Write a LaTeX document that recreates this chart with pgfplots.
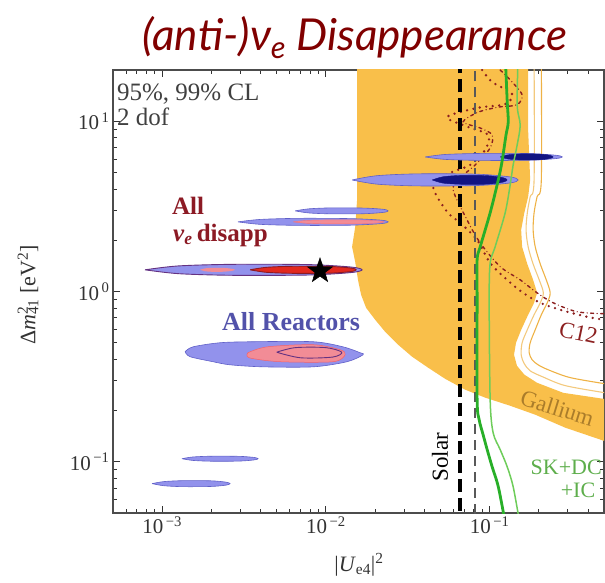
\documentclass[border=0pt]{standalone}
\usepackage{fontspec}
\setmainfont{Liberation Serif}
\newfontfamily\titlefont{Lato}
\usepackage{pgfplots}
\pgfplotsset{compat=1.18}

\definecolor{gal}{RGB}{249,191,74}
\definecolor{galline}{RGB}{238,178,70}
\definecolor{galtext}{RGB}{170,124,42}
\definecolor{lblue}{RGB}{146,146,236}
\definecolor{bedge}{RGB}{96,96,200}
\definecolor{dblue}{RGB}{18,20,130}
\definecolor{pinkc}{RGB}{242,140,150}
\definecolor{redc}{RGB}{226,40,30}
\definecolor{dred}{RGB}{140,26,36}
\definecolor{cdots}{RGB}{140,32,32}
\definecolor{gthick}{RGB}{40,175,40}
\definecolor{gthin}{RGB}{110,205,90}
\definecolor{titlered}{RGB}{128,0,0}
\definecolor{reac}{RGB}{82,82,170}
\definecolor{purp}{RGB}{100,50,130}

% filled five-pointed star for the best-fit point
\pgfdeclareplotmark{fivestar}{%
  \pgfpathmoveto{\pgfqpoint{0pt}{13pt}}%
  \pgfpathlineto{\pgfqpoint{-3.06pt}{4.21pt}}%
  \pgfpathlineto{\pgfqpoint{-12.36pt}{4.02pt}}%
  \pgfpathlineto{\pgfqpoint{-4.94pt}{-1.61pt}}%
  \pgfpathlineto{\pgfqpoint{-7.64pt}{-10.52pt}}%
  \pgfpathlineto{\pgfqpoint{0pt}{-5.2pt}}%
  \pgfpathlineto{\pgfqpoint{7.64pt}{-10.52pt}}%
  \pgfpathlineto{\pgfqpoint{4.94pt}{-1.61pt}}%
  \pgfpathlineto{\pgfqpoint{12.36pt}{4.02pt}}%
  \pgfpathlineto{\pgfqpoint{3.06pt}{4.21pt}}%
  \pgfpathclose
  \pgfusepathqfillstroke}

\begin{document}
\begin{tikzpicture}
\path[use as bounding box] (-113pt,-69pt) rectangle (492pt,513pt);
\begin{axis}[
  at={(0pt,0pt)}, anchor=south west,
  scale only axis, width=491pt, height=443pt,
  xmode=log, ymode=log,
  xmin=5e-4, xmax=0.5, ymin=0.05, ymax=20,
  xtick={1e-3,1e-2,1e-1},
  xticklabels={10\textsuperscript{\,−3},10\textsuperscript{\,−2},10\textsuperscript{\,−1}},
  ytick={0.1,1,10},
  yticklabels={10\textsuperscript{\,−1},10\textsuperscript{\,0},10\textsuperscript{\,1}},
  minor xtick={6e-4,7e-4,8e-4,9e-4,2e-3,3e-3,4e-3,5e-3,6e-3,7e-3,8e-3,9e-3,
               2e-2,3e-2,4e-2,5e-2,6e-2,7e-2,8e-2,9e-2,0.2,0.3,0.4},
  minor ytick={0.06,0.07,0.08,0.09,0.2,0.3,0.4,0.5,0.6,0.7,0.8,0.9,2,3,4,5,6,7,8,9},
  tick label style={font=\fontsize{21}{21}\selectfont, text=black!80},
  major tick length=7pt, minor tick length=4pt,
  tick style={black!80, line width=0.9pt},
  axis line style={black!70, line width=1.3pt},
  clip=true,
]

% Gallium allowed band
\addplot[fill=gal, draw=none] coordinates {
 (0.0155,25) (0.0155,3.45) (0.0151,2.40) (0.01445,1.83) (0.0151,1.49) (0.0157,1.17)
 (0.0164,0.956) (0.0176,0.802) (0.0200,0.682) (0.0230,0.580) (0.0276,0.487)
 (0.0336,0.414) (0.0421,0.357) (0.0535,0.307) (0.0709,0.265) (0.0939,0.238)
 (0.134,0.213) (0.190,0.189) (0.290,0.1585) (0.6,0.125)
 (0.6,0.228) (0.282,0.254) (0.195,0.291) (0.163,0.325) (0.147,0.366) (0.141,0.425)
 (0.145,0.500) (0.156,0.596) (0.172,0.730) (0.187,0.858) (0.1953,0.982) (0.1845,1.17)
 (0.170,1.45) (0.158,1.83) (0.1559,2.30) (0.163,2.90) (0.172,3.60) (0.177,4.52)
 (0.172,8.89) (0.172,25)
} -- cycle;

% Gallium contour lines
\addplot[galline!70!white, line width=1.1pt, smooth] coordinates {
 (0.187,25) (0.187,4.52) (0.177,3.60) (0.170,2.90) (0.167,2.30) (0.172,1.83)
 (0.1845,1.45) (0.201,1.17) (0.213,0.982) (0.204,0.858) (0.187,0.730) (0.170,0.596)
 (0.158,0.500) (0.156,0.425) (0.163,0.376) (0.177,0.342) (0.210,0.316) (0.290,0.280)
 (0.51,0.254)
};
\addplot[galline, line width=1.1pt, smooth] coordinates {
 (0.207,25) (0.207,4.52) (0.195,3.60) (0.187,2.90) (0.1845,2.30) (0.190,1.83)
 (0.204,1.45) (0.222,1.17) (0.2345,0.982) (0.225,0.858) (0.207,0.730) (0.190,0.596)
 (0.177,0.500) (0.1745,0.437) (0.182,0.397) (0.198,0.371) (0.228,0.347) (0.311,0.312)
 (0.51,0.287)
};

% C12 exclusion contours
\addplot[cdots, line width=2.6pt, line cap=round, dash pattern=on 0pt off 6.5pt, smooth] coordinates {
 (0.0901,20) (0.1036,17.0) (0.137,14.5) (0.1245,12.6) (0.0851,12.0) (0.055,10.6)
 (0.0709,9.39) (0.098,8.31) (0.0939,6.79) (0.0761,5.54) (0.0558,4.91) (0.0452,4.12)
 (0.055,2.94) (0.0661,2.53) (0.0839,2.01) (0.1008,1.47) (0.128,1.17) (0.160,0.982)
 (0.204,0.858) (0.270,0.781) (0.395,0.710) (0.51,0.68)
};
\addplot[cdots, line width=1.4pt, line cap=round, dash pattern=on 3pt off 3.5pt on 0pt off 3.5pt, smooth] coordinates {
 (0.116,20) (0.1336,17.5) (0.158,14.3) (0.147,12.5) (0.113,12.1) (0.0851,11.3)
 (0.0689,9.91) (0.0876,9.13) (0.1036,8.31) (0.1008,6.97) (0.0817,5.54) (0.0661,4.65)
 (0.0599,3.95) (0.0729,2.63) (0.0876,1.93) (0.116,1.40) (0.154,1.17) (0.195,0.982)
 (0.245,0.858) (0.343,0.760) (0.51,0.740)
};

% solar bounds
\addplot[black, line width=3.5pt, dash pattern=on 13pt off 6pt] coordinates {(0.0661,0.04) (0.0661,25)};
\addplot[black!65, line width=1.5pt, dash pattern=on 10pt off 6pt] coordinates {(0.0817,0.04) (0.0817,25)};

% allowed regions, Delta m^2 around 6 and 4.5 eV^2
\addplot[fill=lblue, draw=bedge, line width=0.6pt, smooth] coordinates {
 (0.0404,6.17) (0.0535,6.38) (0.0876,6.47) (0.172,6.46) (0.252,6.32) (0.278,6.17)
 (0.252,6.03) (0.172,5.90) (0.0876,5.89) (0.0535,5.97) (0.0404,6.17)};
\addplot[fill=dblue, draw=dblue, line width=0.4pt, smooth] coordinates {
 (0.116,6.17) (0.1298,6.35) (0.156,6.43) (0.204,6.41) (0.2345,6.30) (0.2446,6.17)
 (0.2345,6.05) (0.204,5.94) (0.156,5.93) (0.1298,6.00) (0.116,6.17)};
\addplot[fill=lblue, draw=bedge, line width=0.6pt, smooth] coordinates {
 (0.01445,4.52) (0.02055,4.79) (0.0366,4.91) (0.0828,4.89) (0.1336,4.71) (0.1495,4.52)
 (0.1336,4.34) (0.0828,4.19) (0.0366,4.17) (0.02055,4.27) (0.01445,4.52)};
\addplot[fill=dblue, draw=dblue, line width=0.4pt, smooth] coordinates {
 (0.0446,4.52) (0.0520,4.72) (0.0680,4.81) (0.098,4.79) (0.121,4.66) (0.128,4.52)
 (0.121,4.39) (0.098,4.27) (0.068,4.26) (0.052,4.33) (0.0446,4.52)};

% allowed regions around 3 and 2.5 eV^2
\addplot[fill=lblue, draw=bedge, line width=0.6pt, smooth] coordinates {
 (0.00648,2.975) (0.00789,3.06) (0.0109,3.10) (0.0171,3.09) (0.0224,3.04) (0.0240,2.975)
 (0.0224,2.915) (0.0171,2.863) (0.0109,2.857) (0.00789,2.892) (0.00648,2.975)};
\addplot[fill=lblue, draw=bedge, line width=0.6pt, smooth] coordinates {
 (0.0029,2.564) (0.00396,2.65) (0.00676,2.69) (0.01405,2.68) (0.0217,2.625) (0.0240,2.564)
 (0.0217,2.504) (0.01405,2.451) (0.00676,2.445) (0.00396,2.48) (0.0029,2.564)};
\addplot[fill=pinkc, draw=pinkc!80!red, line width=0.4pt, smooth] coordinates {
 (0.0063,2.564) (0.00756,2.613) (0.01045,2.634) (0.0164,2.631) (0.0211,2.599) (0.02267,2.564)
 (0.0211,2.530) (0.0164,2.499) (0.01045,2.496) (0.00756,2.516) (0.0063,2.564)};

% best-fit region around 1.3 eV^2
\addplot[fill=lblue, draw=purp, line width=0.9pt, smooth] coordinates {
 (0.000785,1.341) (0.00125,1.413) (0.00267,1.444) (0.00778,1.439) (0.01425,1.392) (0.01663,1.341)
 (0.01425,1.292) (0.00778,1.2496) (0.00267,1.245) (0.00125,1.273) (0.000785,1.341)};
\addplot[fill=pinkc, draw=none, smooth] coordinates {
 (0.0017,1.341) (0.001825,1.367) (0.002014,1.378) (0.002385,1.376) (0.002669,1.359) (0.002784,1.341)
 (0.002669,1.323) (0.002385,1.307) (0.002014,1.305) (0.001825,1.316) (0.0017,1.341)};
\addplot[fill=redc, draw=dred, line width=0.9pt, smooth] coordinates {
 (0.00344,1.341) (0.00431,1.386) (0.00621,1.406) (0.0106,1.403) (0.01425,1.373) (0.0153,1.341)
 (0.01425,1.310) (0.0106,1.282) (0.00621,1.279) (0.00431,1.297) (0.00344,1.341)};

% reactor region around 0.44 eV^2
\addplot[fill=lblue, draw=bedge, line width=0.6pt, smooth] coordinates {
 (0.00138,0.443) (0.00154,0.473) (0.00225,0.500) (0.00359,0.507) (0.00835,0.507)
 (0.01273,0.473) (0.01617,0.437) (0.01687,0.425) (0.01347,0.387) (0.00835,0.361)
 (0.00413,0.361) (0.0026,0.371) (0.00204,0.387) (0.00148,0.414) (0.00138,0.443)};
\addplot[fill=pinkc, draw=pinkc!70!red, line width=0.5pt, smooth] coordinates {
 (0.00334,0.437) (0.00437,0.473) (0.00835,0.487) (0.01221,0.455) (0.0131,0.425)
 (0.01106,0.387) (0.00525,0.387) (0.0034,0.408) (0.00334,0.437)};
\addplot[draw=purp, line width=0.9pt, smooth] coordinates {
 (0.0050,0.44) (0.0065,0.468) (0.0100,0.468) (0.0125,0.44) (0.0110,0.412)
 (0.0070,0.408) (0.0050,0.44)};

% small regions at low Delta m^2
\addplot[fill=lblue, draw=bedge, line width=0.6pt, smooth] coordinates {
 (0.00132,0.1042) (0.00154,0.1067) (0.00201,0.1078) (0.00295,0.1076) (0.00364,0.1060) (0.00385,0.1042)
 (0.00364,0.1025) (0.00295,0.1009) (0.00201,0.1007) (0.00154,0.1018) (0.00132,0.1042)};
\addplot[fill=lblue, draw=bedge, line width=0.6pt, smooth] coordinates {
 (0.000866,0.0744) (0.001025,0.0765) (0.001339,0.07745) (0.001986,0.0773) (0.002453,0.0759) (0.002596,0.0744)
 (0.002453,0.0729) (0.001986,0.0716) (0.001339,0.0714) (0.001025,0.0723) (0.000866,0.0744)};

% SK+DC+IC bounds
\addplot[gthick, line width=2.8pt, smooth] coordinates {
 (0.1245,25) (0.128,13.3) (0.130,9.91) (0.126,8.31) (0.119,5.77) (0.113,4.52) (0.1008,2.90)
 (0.0876,1.83) (0.0839,1.535) (0.0839,0.894) (0.0839,0.231) (0.0863,0.177) (0.0913,0.144)
 (0.0966,0.118) (0.1036,0.0936) (0.113,0.0714) (0.124,0.045)};
\addplot[gthin, line width=1.5pt, smooth] coordinates {
 (0.1495,25) (0.1474,12.5) (0.1538,9.51) (0.1474,7.26) (0.1393,5.54) (0.1336,4.23) (0.1245,2.90)
 (0.1081,1.83) (0.1008,1.47) (0.0994,0.894) (0.1008,0.231) (0.1051,0.148) (0.116,0.118)
 (0.128,0.0936) (0.1393,0.0714) (0.152,0.045)};

% best fit
\addplot[only marks, mark=fivestar, mark options={fill=black, draw=black, line width=0.5pt}] coordinates {(0.0092,1.32)};

% labels inside the frame
\node[anchor=base west, font=\fontsize{25}{25}\selectfont, text=black!75, inner sep=0pt] at (rel axis cs:0.008,0.932) {95\%, 99\% CL};
\node[anchor=base west, font=\fontsize{25}{25}\selectfont, text=black!75, inner sep=0pt] at (rel axis cs:0.008,0.874) {2 dof};
\node[anchor=base west, font=\bfseries\fontsize{25}{25}\selectfont, text=dred, inner sep=0pt] at (rel axis cs:0.120,0.673) {All};
\node[anchor=base west, font=\bfseries\fontsize{25}{25}\selectfont, text=dred, inner sep=0pt] at (rel axis cs:0.122,0.614) {\textit{ν}\textsubscript{\textit{e}}\,disapp};
\node[anchor=base west, font=\bfseries\fontsize{26}{26}\selectfont, text=reac, inner sep=0pt] at (rel axis cs:0.222,0.411) {All Reactors};
\node[rotate=90, font=\fontsize{23}{23}\selectfont, text=black, inner sep=0pt] at (rel axis cs:0.666,0.126) {Solar};
\node[rotate=-17, font=\fontsize{23}{23}\selectfont, text=galtext, inner sep=0pt] at (rel axis cs:0.905,0.237) {Gallium};
\node[rotate=-12, font=\fontsize{23}{23}\selectfont, text=cdots, inner sep=0pt] at (rel axis cs:0.948,0.407) {C12};
\node[font=\fontsize{22}{22}\selectfont, text=gthin!85!black, inner sep=0pt] at (rel axis cs:0.923,0.102) {SK+DC};
\node[font=\fontsize{22}{22}\selectfont, text=gthin!85!black, inner sep=0pt] at (rel axis cs:0.947,0.052) {+IC};
\end{axis}

% axis titles and heading, outside the clipped frame
\node[font=\fontsize{22}{22}\selectfont, text=black!80] at (246pt,-52pt) {|\textit{U}\textsubscript{e4}|\textsuperscript{2}};
\node[rotate=90, font=\fontsize{22}{22}\selectfont, text=black!80] at (-85pt,218pt) {Δ\textit{m}\rlap{\textsuperscript{2}}\textsubscript{41} [eV\textsuperscript{2}]};
\node[anchor=base, font=\titlefont\itshape\fontsize{44}{44}\selectfont, text=titlered, inner sep=0pt] at (242pt,462pt) {(anti-)ν\textsubscript{e} Disappearance};
\end{tikzpicture}
\end{document}
